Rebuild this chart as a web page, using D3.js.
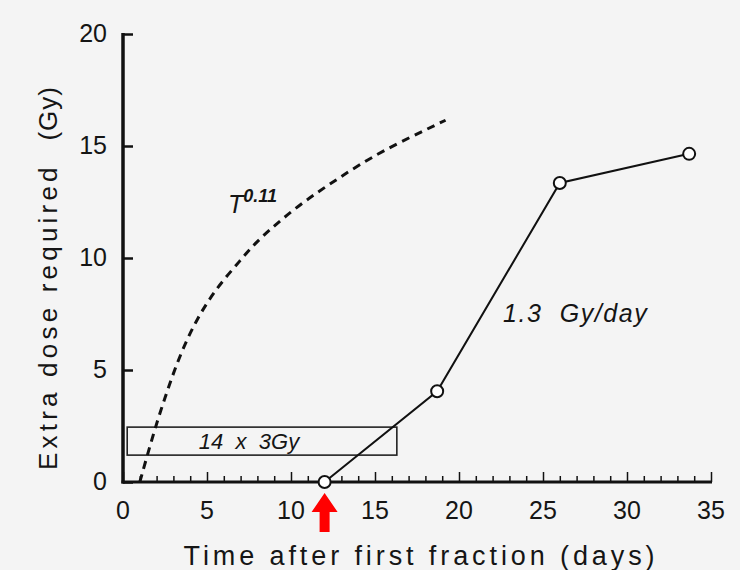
<!DOCTYPE html>
<html>
<head>
<meta charset="utf-8">
<script src="https://cdn.jsdelivr.net/npm/d3@7"></script>
<style>
  body { margin: 0; background: #f4f4f4; }
  text { font-family: "Liberation Sans", Arial, sans-serif; fill: #151515; }
</style>
</head>
<body>
<div id="chart"></div>
<script>
//~~~~~~~~~~ DATA
let measuredDays = [12, 18.7, 26, 33.7];
let measuredDose = [0, 4.05, 13.35, 14.65];

let curveDays = [1.0, 1.9, 2.6, 3.4, 4.4, 5.6, 7.0, 8.0, 10.5, 12.9, 15.3, 19.2];
let curveDose = [0.0, 2.4, 4.0, 5.7, 7.3, 8.7, 9.9, 10.8, 12.4, 13.6, 14.75, 16.15];

let xTicks = [0, 5, 10, 15, 20, 25, 30, 35];
let yTicks = [0, 5, 10, 15, 20];

let boxDays = [0.25, 16.3];
let boxDose = [1.2, 2.45];
let arrowDay = 12;

//~~~~~~~~~~ LAYOUT
let width = 740;
let height = 570;

let x = d3.scaleLinear().domain([0, 35]).range([123, 711]);
let y = d3.scaleLinear().domain([0, 20]).range([482, 34]);

let svg = d3.select('#chart')
  .append('svg')
  .attr('width', width)
  .attr('height', height);

svg.append('rect')
  .attr('width', width)
  .attr('height', height)
  .attr('fill', '#f4f4f4');

//~~~~~~~~~~ AXES
// y axis, ticks pointing inward
let yAxis = svg.append('g')
  .attr('transform', 'translate(' + x(0) + ',0)')
  .call(d3.axisRight(y).tickValues(yTicks).tickSize(10).tickFormat(''));
yAxis.select('.domain').remove();
yAxis.selectAll('line').attr('stroke', '#111').attr('stroke-width', 2.5);

svg.append('line')
  .attr('x1', x(0)).attr('x2', x(0))
  .attr('y1', y(20) - 1).attr('y2', y(0) + 1.5)
  .attr('stroke', '#111').attr('stroke-width', 3.5);

svg.selectAll('.ylab')
  .data(yTicks)
  .enter()
  .append('text')
  .attr('class', 'ylab')
  .attr('x', x(0) - 16)
  .attr('y', function(d) { return y(d) + 8; })
  .attr('text-anchor', 'end')
  .style('font-size', '25px')
  .text(function(d) { return d; });

// x axis, minor ticks each day, major each 5
let xAxis = svg.append('g')
  .attr('transform', 'translate(0,' + y(0) + ')')
  .call(d3.axisTop(x).ticks(35).tickSize(6).tickFormat(''));
xAxis.select('.domain').remove();
xAxis.selectAll('.tick line')
  .attr('stroke', '#111')
  .attr('stroke-width', 1.5)
  .attr('y2', function(d) { return d % 5 === 0 ? -10 : -6; });

svg.append('line')
  .attr('x1', x(0) - 1.5).attr('x2', x(35) + 1)
  .attr('y1', y(0)).attr('y2', y(0))
  .attr('stroke', '#111').attr('stroke-width', 3);

svg.selectAll('.xlab')
  .data(xTicks)
  .enter()
  .append('text')
  .attr('class', 'xlab')
  .attr('x', function(d) { return x(d); })
  .attr('y', 519)
  .attr('text-anchor', 'middle')
  .style('font-size', '25px')
  .text(function(d) { return d; });

// axis titles
svg.append('text')
  .attr('x', 421)
  .attr('y', 565)
  .attr('text-anchor', 'middle')
  .style('font-size', '27px')
  .style('letter-spacing', '3.9px')
  .text('Time after first fraction (days)');

svg.append('text')
  .attr('transform', 'translate(57,470) rotate(-90)')
  .attr('text-anchor', 'start')
  .style('font-size', '26px')
  .style('letter-spacing', '4.2px')
  .text('Extra dose required');

svg.append('text')
  .attr('transform', 'translate(57,86) rotate(-90)')
  .attr('text-anchor', 'end')
  .style('font-size', '26px')
  .style('letter-spacing', '1px')
  .text('(Gy)');

//~~~~~~~~~~ 14 x 3Gy BOX
svg.append('rect')
  .attr('x', x(boxDays[0]))
  .attr('y', y(boxDose[1]))
  .attr('width', x(boxDays[1]) - x(boxDays[0]))
  .attr('height', y(boxDose[0]) - y(boxDose[1]))
  .attr('fill', 'none')
  .attr('stroke', '#222')
  .attr('stroke-width', 1.6);

svg.append('text')
  .attr('x', 249)
  .attr('y', 449)
  .attr('text-anchor', 'middle')
  .style('font-size', '22px')
  .style('font-style', 'italic')
  .style('white-space', 'pre')
  .text('14  x  3Gy');

//~~~~~~~~~~ T^0.11 DASHED CURVE
let curve = curveDays.map(function(d, i) { return [d, curveDose[i]]; });
svg.append('path')
  .datum(curve)
  .attr('d', d3.line()
    .x(function(d) { return x(d[0]); })
    .y(function(d) { return y(d[1]); })
    .curve(d3.curveBasis))
  .attr('fill', 'none')
  .attr('stroke', '#111')
  .attr('stroke-width', 3)
  .attr('stroke-dasharray', '8,6');

let tLabel = svg.append('text')
  .attr('x', 228)
  .attr('y', 213)
  .style('font-size', '25px')
  .style('font-style', 'italic');
tLabel.append('tspan').text('T');
tLabel.append('tspan')
  .attr('dy', -11)
  .style('font-size', '18px')
  .style('font-weight', 'bold')
  .text('0.11');

//~~~~~~~~~~ MEASURED LINE
let pts = measuredDays.map(function(d, i) { return [d, measuredDose[i]]; });
svg.append('path')
  .datum(pts)
  .attr('d', d3.line()
    .x(function(d) { return x(d[0]); })
    .y(function(d) { return y(d[1]); }))
  .attr('fill', 'none')
  .attr('stroke', '#111')
  .attr('stroke-width', 2);

svg.selectAll('.pt')
  .data(pts)
  .enter()
  .append('circle')
  .attr('class', 'pt')
  .attr('cx', function(d) { return x(d[0]); })
  .attr('cy', function(d) { return y(d[1]); })
  .attr('r', 6)
  .attr('fill', '#fff')
  .attr('stroke', '#111')
  .attr('stroke-width', 2);

svg.append('text')
  .attr('x', 503)
  .attr('y', 322)
  .style('font-size', '25px')
  .style('font-style', 'italic')
  .style('white-space', 'pre')
  .style('letter-spacing', '1.6px')
  .text('1.3  Gy/day');

//~~~~~~~~~~ RED ARROW
let ax = x(arrowDay);
svg.append('path')
  .attr('d', 'M' + ax + ',493 L' + (ax + 13) + ',512 L' + (ax + 5) + ',512 L' + (ax + 5) + ',532 L' +
    (ax - 5) + ',532 L' + (ax - 5) + ',512 L' + (ax - 13) + ',512 Z')
  .attr('fill', '#ff0000');
</script>
</body>
</html>
